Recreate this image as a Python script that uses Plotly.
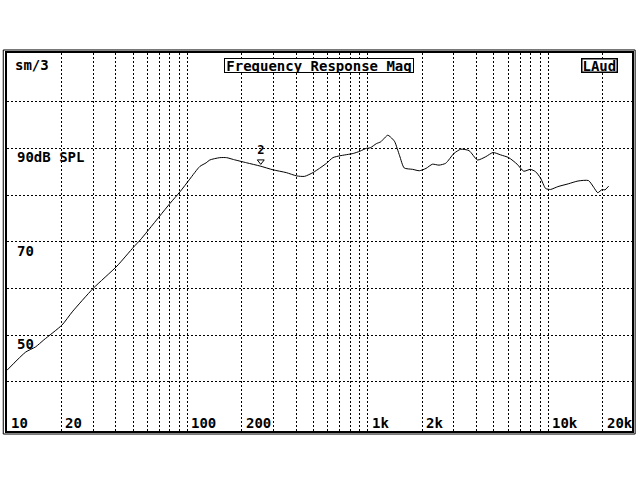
import math
import plotly.graph_objects as go

# frequency response (Hz, dB SPL)
FREQ = [10, 12.7, 14.4, 16, 20.2, 23, 30, 40.7, 50.4, 54.8, 59.6, 80, 91, 103,
        117, 127, 133, 151, 165, 180, 213, 253, 298, 353, 403, 446, 496, 539,
        590, 640, 700, 830, 906, 980, 1030, 1115, 1180, 1290, 1370, 1410, 1500,
        1590, 1770, 1930, 2100, 2280, 2480, 2700, 3000, 3270, 3640, 4050, 4500,
        4940, 5440, 6040, 6720, 7310, 7960, 8500, 9070, 9670, 10300, 11300,
        12900, 14600, 16700, 17900, 18800, 19900, 20600, 21600]
SPL = [42.5, 46.4, 47.5, 49.0, 52.2, 55.0, 60.0, 64.8, 68.9, 70.4, 72.1, 78.2,
       80.7, 83.4, 86.1, 86.9, 87.5, 88.0, 88.0, 87.6, 86.9, 86.2, 85.4, 84.8,
       84.1, 84.0, 84.8, 85.7, 86.8, 88.0, 88.4, 88.9, 89.4, 90.0, 90.1, 91.0,
       91.4, 92.8, 92.0, 91.4, 88.4, 85.8, 85.5, 85.2, 85.7, 86.6, 86.4, 86.8,
       88.9, 89.8, 89.5, 87.5, 88.2, 89.1, 88.6, 88.0, 86.6, 85.1, 85.5, 85.0,
       83.6, 81.4, 81.2, 81.8, 82.4, 83.0, 83.1, 81.6, 80.5, 81.2, 81.1, 81.9]

# cursor marker
CURSOR_F = [255]
CURSOR_DB = [87.2]
CURSOR_LABEL = ["2"]

X_GRID = [20, 30, 40, 50, 60, 70, 80, 90, 100, 200, 300, 400, 500, 600, 700,
          800, 900, 1000, 2000, 3000, 4000, 5000, 6000, 7000, 8000, 9000,
          10000, 20000]
X_LABEL_VALS = [10, 20, 100, 200, 1000, 2000, 10000, 20000]
X_LABELS = ["10", "20", "100", "200", "1k", "2k", "10k", "20k"]
Y_GRID = [40, 50, 60, 70, 80, 90, 100]
Y_LABEL_VALS = [90, 70, 50]
Y_LABELS = ["90dB SPL", "70", "50"]

FONT = dict(family="DejaVu Sans Mono", size=14, color="black", weight="bold")

fig = go.Figure()
fig.add_trace(go.Scatter(
    x=FREQ, y=SPL, mode="lines",
    line=dict(color="black", width=1, shape="spline", smoothing=0.6),
    hoverinfo="skip",
))
fig.add_trace(go.Scatter(
    x=CURSOR_F, y=CURSOR_DB, mode="markers+text",
    marker=dict(symbol="triangle-down-open", size=6, color="black",
                line=dict(width=1, color="black")),
    text=CURSOR_LABEL, textposition="top center",
    textfont=dict(family="DejaVu Sans Mono", size=12, color="black", weight="bold"),
    hoverinfo="skip",
))

annotations = []
for v, t in zip(X_LABEL_VALS, X_LABELS):
    annotations.append(dict(
        x=math.log10(v), y=0.021, xref="x", yref="paper",
        text=t, showarrow=False, xanchor="left", yanchor="middle",
        xshift=2, font=FONT,
    ))
for v, t in zip(Y_LABEL_VALS, Y_LABELS):
    annotations.append(dict(
        x=0.012, y=v, xref="paper", yref="y", text=t, showarrow=False,
        xanchor="left", yanchor="top", yshift=1, font=FONT,
    ))
annotations.append(dict(x=0.01, y=0.995, xref="paper", yref="paper", text="sm/3",
                        showarrow=False, xanchor="left", yanchor="top", font=FONT))
annotations.append(dict(x=0.499, y=0.988, xref="paper", yref="paper",
                        text="Frequency Response Mag", showarrow=False,
                        xanchor="center", yanchor="top", font=FONT,
                        bordercolor="black", borderwidth=1, borderpad=0,
                        bgcolor="white", width=188, height=13))
annotations.append(dict(x=0.978, y=0.988, xref="paper", yref="paper", text="LAud",
                        showarrow=False, xanchor="right", yanchor="top", font=FONT,
                        bordercolor="black", borderwidth=1.5, borderpad=0,
                        bgcolor="white", height=12))

fig.update_layout(
    width=640, height=480,
    margin=dict(l=7, r=6, t=53, b=49),
    paper_bgcolor="white", plot_bgcolor="white",
    showlegend=False,
    annotations=annotations,
    shapes=[dict(type="rect", xref="paper", yref="paper",
                 x0=-0.006, x1=1.005, y0=-0.008, y1=1.008,
                 line=dict(color="black", width=1))],
    xaxis=dict(
        type="log", range=[1.0, 4.464],
        tickvals=X_GRID, showticklabels=False, ticks="",
        showgrid=True, gridcolor="black", gridwidth=1, griddash="2px,2px",
        showline=True, linecolor="black", linewidth=2, mirror=True,
        zeroline=False,
    ),
    yaxis=dict(
        range=[29.5, 110.4],
        tickvals=Y_GRID, showticklabels=False, ticks="",
        showgrid=True, gridcolor="black", gridwidth=1, griddash="2px,2px",
        showline=True, linecolor="black", linewidth=2, mirror=True,
        zeroline=False,
    ),
)

# the page's default body margin would shift the figure
fig.write_html("out.html", config={"displayModeBar": False},
               post_script="document.body.style.margin='0';")
